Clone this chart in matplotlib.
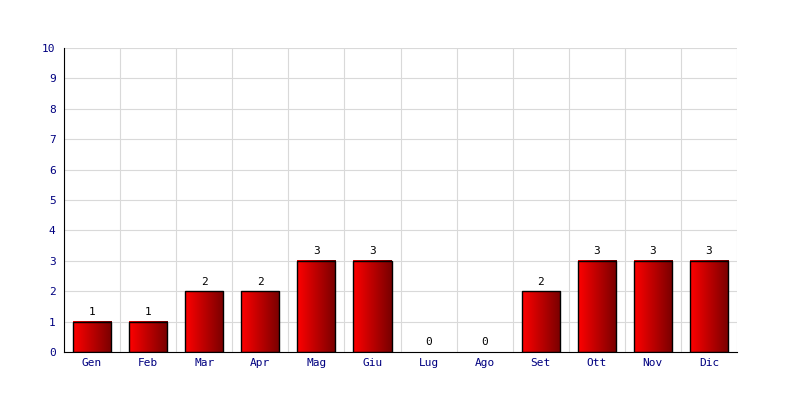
import matplotlib
matplotlib.use("Agg")
import matplotlib.pyplot as plt
import numpy as np
from matplotlib.colors import LinearSegmentedColormap

months = ["Gen", "Feb", "Mar", "Apr", "Mag", "Giu", "Lug", "Ago", "Set", "Ott", "Nov", "Dic"]
values = [1, 1, 2, 2, 3, 3, 0, 0, 2, 3, 3, 3]
yticks = list(range(0, 11))

plt.rcParams['font.family'] = ['DejaVu Sans Mono']

fig = plt.figure(figsize=(8, 4), dpi=100)
ax = fig.add_axes([0.08, 0.12, 0.84125, 0.76])

cmap = LinearSegmentedColormap.from_list("redgrad", ["#ff0000", "#780000"])
grad = np.linspace(0, 1, 256).reshape(1, -1)
width = 0.68
x = np.arange(len(months))
for xi, v in zip(x, values):
    if v > 0:
        ax.imshow(grad, cmap=cmap, aspect='auto',
                  extent=[xi - width / 2, xi + width / 2, 0, v], zorder=2, interpolation='bilinear')
        ax.bar(xi, v, width=width, facecolor='none', edgecolor='black', linewidth=1, zorder=3)
    ax.text(xi, v + 0.15, str(v), ha='center', va='bottom', fontsize=8, color='black', zorder=4)

ax.set_xlim(-0.5, len(months) - 0.5)
ax.set_ylim(0, 10)
ax.set_xticks(x)
ax.set_xticklabels(months)
ax.set_xticks(np.arange(-0.5, len(months), 1), minor=True)
ax.set_yticks(yticks)
ax.tick_params(axis='both', which='both', length=0, labelsize=8, labelcolor='#000080')
ax.tick_params(axis='x', pad=4)
ax.tick_params(axis='y', pad=6)
ax.grid(True, which='minor', axis='x', color='#d9d9d9', linewidth=0.8, zorder=0)
ax.grid(True, which='major', axis='y', color='#d9d9d9', linewidth=0.8, zorder=0)
ax.set_axisbelow(True)
for s in ['top', 'right']:
    ax.spines[s].set_visible(False)
ax.spines['left'].set_color('black')
ax.spines['bottom'].set_color('black')
ax.spines['left'].set_zorder(5)
ax.spines['bottom'].set_zorder(5)

fig.savefig("out.png", dpi=100)
